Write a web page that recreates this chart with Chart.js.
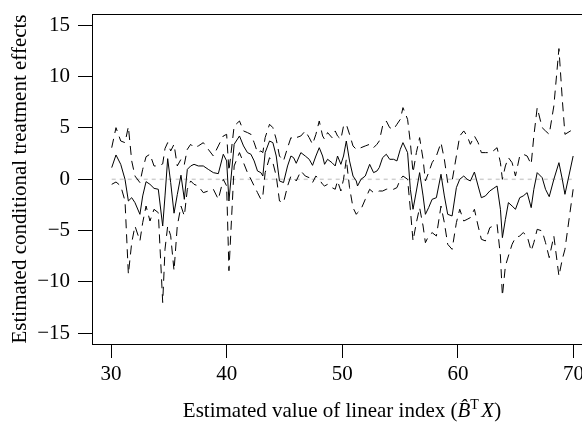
<!DOCTYPE html>
<html>
<head>
<meta charset="utf-8">
<title>Estimated conditional treatment effects</title>
<script src="https://cdn.jsdelivr.net/npm/chart.js@4.4.1/dist/chart.umd.min.js"></script>
<style>
  html, body { margin: 0; padding: 0; background: #fff; overflow: hidden; }
  #wrap { width: 600px; height: 425px; }
</style>
</head>
<body>
<div id="wrap"><canvas id="effects_chart" width="600" height="425"></canvas></div>
<script>
// values
const index_x = [
  30.06, 30.43, 30.84, 31.21, 31.5, 31.79, 32.07, 32.5, 32.74, 33.03,
  33.37, 33.72, 34.09, 34.47, 34.67, 34.9, 35.16, 35.45, 35.73, 36.05,
  36.34, 36.6, 36.89, 37.18, 37.55, 37.98, 38.41, 38.85, 39.28, 39.71,
  40.0, 40.2,
  40.65, 41.11, 41.46, 41.8, 42.1, 42.38, 42.67, 42.96, 43.13, 43.33,
  43.71, 44.0, 44.29, 44.57, 44.92, 45.27, 45.56, 45.79, 46.02, 46.42,
  46.8, 47.14, 47.43, 47.72, 48.01, 48.3, 48.47, 48.73, 49.11, 49.39,
  49.59, 49.88, 50.11, 50.35, 50.63, 50.93, 51.21, 51.32, 51.62, 51.99,
  52.37, 52.71, 53.0, 53.2, 53.49, 53.81, 54.1, 54.44, 54.73, 55.02,
  55.25, 55.65, 55.89, 56.12, 56.41, 56.69, 56.99, 57.19, 57.47, 57.77,
  58.14, 58.54, 58.83, 59.12, 59.5, 59.87, 60.16, 60.51, 60.8, 61.08,
  61.43, 61.75, 62.03, 62.38, 62.76, 63.05, 63.39, 63.68, 63.85, 64.11,
  64.37, 64.69, 64.98, 65.35, 65.65, 65.99, 66.34, 66.57, 66.86, 67.29,
  67.58, 67.9, 68.3, 68.74, 69.03, 69.26, 69.97
];

const effect_est = [
  1.14, 2.37, 1.46, 0, -2.11, -1.79, -2.27, -3.41, -1.62, -0.23,
  -0.49, -0.88, -0.97, -4.55, -1.62, 2.01, -0.32, -3.3, -1.5, 0.4,
  -1.95, 0.97, 1.3, 1.46, 1.3, 1.3, 0.97, 0.65, 0.55, 2.44,
  1.79, -2.11,
  3.41, 4.22, 3.25, 2.6, 2.44, 1.79, 0.81, 0.65, 0.32, 2.6,
  3.73, 3.57, 2.27, -0.16, -0.32, 1.3, 2.27, 2.11, 1.56, 2.6,
  2.27, 1.95, 1.36, 2.27, 3.08, 2.27, 1.46, 1.95, 1.62, 1.3,
  2.27, 1.46, 2.27, 3.73, 1.79, 0.32, -0.16, -0.65, 0, 0.32,
  1.46, 0.65, 0.81, 1.14, 2.11, 2.44, 1.95, 1.95, 1.79, 2.92,
  3.57, 2.6, -0.97, -2.92, -1.14, 0.65, -1.62, -3.41, -2.76, -1.95,
  -1.79, 0.49, -1.62, -3.41, -3.57, -0.81, 0, 0.32, 0, -0.16,
  0.71, -0.65, -1.79, -1.62, -1.14, -0.91, -0.65, -2.92, -5.68, -3.9,
  -2.27, -2.6, -2.92, -1.79, -1.62, -1.3, -2.76, -0.97, 0.65, 0.16,
  -0.97, -1.69, 0, 1.62, 0, -1.46, 2.27
];

const effect_upper = [
  3.08, 5.03, 3.73, 3.57, 5.13, 1.79, 0.32, -0.32, 0.97, 2.2,
  2.44, 1.3, 1.3, 1.5, 3.0, 3.57, 2.76, 3.41, 1.3, 1.95,
  1.46, 2.92, 3.41, 3.08, 3.25, 3.57, 2.92, 2.27, 3.25, 4.22,
  4.38, 0.8,
  5.19, 5.68, 4.71, 4.55, 4.38, 3.57, 2.6, 2.76, 2.6, 4.06,
  5.36, 5.03, 3.9, 2.27, 1.79, 3.08, 4.06, 3.9, 4.06, 4.22,
  4.71, 4.06, 3.41, 4.38, 5.68, 4.22, 3.9, 4.55, 4.06, 4.71,
  4.22, 3.9, 5.19, 5.36, 4.38, 3.25, 2.92, 2.92, 3.08, 3.25,
  3.41, 3.08, 3.41, 3.73, 5.19, 5.68, 5.03, 4.87, 5.36, 5.84,
  6.98, 5.84, 3.57, 0.65, 2.6, 4.06, 1.95, -0.16, 0.65, 1.62,
  2.27, 3.57, 1.95, -0.32, -0.16, 2.27, 4.22, 4.71, 4.22, 3.41,
  4.22, 3.57, 2.6, 2.6, 2.6, 2.76, 3.08, 1.62, 0, 1.3,
  2.11, 1.62, 0.32, 2.27, 2.44, 2.27, 1.46, 4.22, 6.98, 5.03,
  4.71, 4.38, 7.14, 12.73, 7.79, 4.38, 4.87
];

const effect_lower = [
  -0.49, -0.26, -0.65, -2.11, -9.25, -6.17, -4.55, -6.0, -4.22, -2.6,
  -4.06, -2.92, -3.25, -12.0, -6.8, -4.55, -5.5, -8.9, -4.55, -2.6,
  -3.57, -0.97, -0.16, -0.49, -0.65, -1.3, -1.14, -0.97, -1.95, 0,
  -0.65, -8.9,
  1.3, 2.6, 1.62, 0.65, 0, -0.65, -1.3, -1.95, -1.62, 0.65,
  2.11, 1.62, 0.32, -2.11, -2.27, -0.65, 0.32, 0.16, -0.16, 0.81,
  0.32, 0.16, -0.32, 0.32, 0, -0.49, -0.65, -0.49, -0.81, -0.97,
  -0.16, -1.14, 0, 1.95, -0.81, -2.76, -3.41, -3.25, -2.92, -1.95,
  -0.97, -1.3, -1.23, -1.14, -1.14, -0.97, -0.91, -0.97, -0.81, 0,
  0.32, 0, -2.92, -6.0, -4.22, -2.76, -4.55, -6.17, -5.52, -5.19,
  -5.52, -2.6, -4.22, -6.33, -6.82, -4.22, -2.92, -4.06, -3.9, -3.73,
  -2.92, -4.55, -5.84, -6.0, -4.71, -4.55, -4.38, -7.47, -11.36, -8.44,
  -7.47, -6.33, -5.68, -5.52, -5.19, -5.52, -6.98, -6.17, -4.87, -5.03,
  -6.17, -7.63, -5.52, -9.42, -7.79, -6.82, -0.97
];

const x_ticks = [30, 40, 50, 60, 70];
const y_ticks = [-15, -10, -5, 0, 5, 10, 15];

const serif = '"Liberation Serif", "Times New Roman", Times, serif';

function points(ys) {
  return index_x.map(function (x, i) { return { x: x, y: ys[i] }; });
}

// box round the plot region, like R's box()
const plot_box = {
  id: 'plot_box',
  afterDraw: function (chart) {
    const a = chart.chartArea;
    const ctx = chart.ctx;
    ctx.save();
    ctx.strokeStyle = '#000';
    ctx.lineWidth = 1;
    ctx.strokeRect(Math.round(a.left) + 0.5, Math.round(a.top) + 0.5,
      Math.round(a.right - a.left), Math.round(a.bottom - a.top));
    ctx.restore();
  }
};

// x axis title with the italic B-hat and X, drawn in pieces
const x_title = {
  id: 'x_title',
  afterDraw: function (chart) {
    const ctx = chart.ctx;
    const a = chart.chartArea;
    const parts = [
      { t: 'Estimated value of linear index (', f: '21px ' + serif, dy: 0 },
      { t: 'B\u0302', f: 'italic 21px ' + serif, dy: 0 },
      { t: 'T', f: '14px ' + serif, dy: -8 },
      { t: ' ', f: '10px ' + serif, dy: 0 },
      { t: 'X', f: 'italic 21px ' + serif, dy: 0 },
      { t: ')', f: '21px ' + serif, dy: 0 }
    ];
    ctx.save();
    ctx.fillStyle = '#000';
    ctx.textBaseline = 'alphabetic';
    ctx.textAlign = 'left';
    let total = 0;
    parts.forEach(function (p) { ctx.font = p.f; p.w = ctx.measureText(p.t).width; total += p.w; });
    let x = (a.left + a.right) / 2 - total / 2;
    const base = 417;
    parts.forEach(function (p) {
      ctx.font = p.f;
      ctx.fillText(p.t, x, base + p.dy);
      x += p.w;
    });
    ctx.restore();
  }
};

// no extra room for the end tick labels, the layout padding does it
function no_label_padding(scale) {
  scale.paddingTop = 0;
  scale.paddingBottom = 0;
  scale.paddingLeft = 0;
  scale.paddingRight = 0;
}

const config = {
  type: 'line',
  data: {
    datasets: [
      {
        label: 'estimate',
        data: points(effect_est),
        borderColor: '#000',
        borderWidth: 1,
        pointRadius: 0,
        tension: 0
      },
      {
        label: 'upper',
        data: points(effect_upper),
        borderColor: '#000',
        borderWidth: 1,
        borderDash: [9, 6],
        pointRadius: 0,
        tension: 0
      },
      {
        label: 'lower',
        data: points(effect_lower),
        borderColor: '#000',
        borderWidth: 1,
        borderDash: [9, 6],
        pointRadius: 0,
        tension: 0
      },
      {
        label: 'zero',
        data: [{ x: index_x[0], y: 0 }, { x: index_x[index_x.length - 1], y: 0 }],
        borderColor: '#cfcfcf',
        borderWidth: 1.5,
        borderDash: [4, 4],
        pointRadius: 0,
        order: 10
      }
    ]
  },
  options: {
    responsive: false,
    animation: false,
    devicePixelRatio: 1,
    layout: { padding: { top: 14, right: 8, left: 0, bottom: 0 } },
    plugins: {
      legend: { display: false },
      tooltip: { enabled: false }
    },
    scales: {
      x: {
        type: 'linear',
        min: 28.355,
        max: 71.6,
        afterBuildTicks: function (scale) {
          scale.ticks = x_ticks.map(function (v) { return { value: v }; });
        },
        afterFit: function (scale) {
          scale.height = 81;
          no_label_padding(scale);
        },
        grid: { drawOnChartArea: false, drawTicks: true, tickLength: 14, tickColor: '#000' },
        border: { display: false },
        ticks: {
          color: '#000',
          padding: 4,
          maxRotation: 0,
          font: { family: serif, size: 21 }
        },
        title: { display: false }
      },
      y: {
        type: 'linear',
        min: -16.04,
        max: 16.1,
        afterBuildTicks: function (scale) {
          scale.ticks = y_ticks.map(function (v) { return { value: v }; });
        },
        afterFit: function (scale) {
          scale.width = 92;
          no_label_padding(scale);
        },
        grid: { drawOnChartArea: false, drawTicks: true, tickLength: 14, tickColor: '#000' },
        border: { display: false },
        ticks: {
          color: '#000',
          padding: 8,
          font: { family: serif, size: 21 },
          callback: function (v) { return v < 0 ? '\u2212' + Math.abs(v) : String(v); }
        },
        title: {
          display: true,
          text: 'Estimated conditional treatment effects',
          color: '#000',
          padding: { top: 8, bottom: 0 },
          font: { family: serif, size: 21 }
        }
      }
    }
  },
  plugins: [plot_box, x_title]
};

const effects_chart = new Chart(document.getElementById('effects_chart'), config);
</script>
</body>
</html>
